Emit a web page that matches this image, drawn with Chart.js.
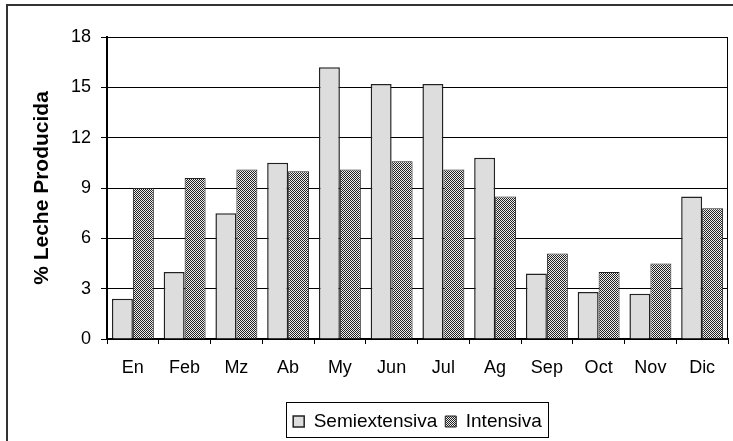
<!DOCTYPE html>
<html>
<head>
<meta charset="utf-8">
<script src="https://cdn.jsdelivr.net/npm/chart.js@4.4.1/dist/chart.umd.min.js"></script>
<style>
  html, body { margin: 0; padding: 0; background: #fff; }
</style>
</head>
<body>
<canvas id="chart1" width="733" height="441"></canvas>
<script>
var months = ['En', 'Feb', 'Mz', 'Ab', 'My', 'Jun', 'Jul', 'Ag', 'Sep', 'Oct', 'Nov', 'Dic'];
var semiextensiva = [2.4, 4.0, 7.5, 10.5, 16.2, 15.2, 15.2, 10.8, 3.9, 2.8, 2.7, 8.5];
var intensiva = [9.0, 9.6, 10.1, 10.0, 10.1, 10.6, 10.1, 8.5, 5.1, 4.0, 4.5, 7.8];
var yTicks = [0, 3, 6, 9, 12, 15, 18];

// checkered fill like the old excel pattern
function checker() {
  var c = document.createElement('canvas');
  c.width = 2; c.height = 2;
  var x = c.getContext('2d');
  x.fillStyle = '#eeeeee';
  x.fillRect(0, 0, 2, 2);
  x.fillStyle = '#222222';
  x.fillRect(0, 0, 1, 1);
  x.fillRect(1, 1, 1, 1);
  return x.createPattern(c, 'repeat');
}

var frames = {
  id: 'frames',
  afterDraw: function (chart) {
    var ctx = chart.ctx;
    var a = chart.chartArea;
    ctx.save();
    // plot area right edge
    ctx.strokeStyle = '#000';
    ctx.lineWidth = 1;
    ctx.beginPath();
    ctx.moveTo(a.right - 0.5, a.top);
    ctx.lineTo(a.right - 0.5, a.bottom);
    ctx.stroke();
    // legend box
    var hb = chart.legend.legendHitBoxes;
    if (hb && hb.length) {
      var l = hb[0].left - 7;
      var r = hb[hb.length - 1].left + hb[hb.length - 1].width + 6;
      ctx.strokeStyle = '#000';
      ctx.lineWidth = 1;
      ctx.strokeRect(Math.round(l) + 0.5, 402.5, Math.round(r - l), 35);
    }
    // outer border
    ctx.strokeStyle = '#333';
    ctx.lineWidth = 2;
    ctx.strokeRect(7, 5, 800, 500);
    ctx.restore();
  }
};

Chart.defaults.font.family = '"Liberation Sans", Arial, sans-serif';
Chart.defaults.color = '#000';

var graph = document.getElementById('chart1');

var myChart = new Chart(graph, {
  type: 'bar',
  data: {
    labels: months,
    datasets: [{
      label: 'Semiextensiva',
      data: semiextensiva,
      backgroundColor: '#dddddd',
      borderColor: '#222',
      borderWidth: 1.5
    }, {
      label: 'Intensiva',
      data: intensiva,
      backgroundColor: checker(),
      borderColor: '#222',
      borderWidth: 1
    }]
  },
  options: {
    responsive: false,
    animation: false,
    devicePixelRatio: 1,
    categoryPercentage: 0.81,
    barPercentage: 1.0,
    layout: { padding: { top: 37, right: 5, left: 0, bottom: 0 } },
    scales: {
      x: {
        afterFit: function (s) { s.height = 65; },
        grid: { display: true, drawOnChartArea: false, color: '#000', tickLength: 5, offset: true },
        border: { display: true, color: '#000', width: 2 },
        ticks: { font: { size: 18 }, padding: 13, maxRotation: 0 }
      },
      y: {
        min: 0,
        max: 18,
        afterFit: function (s) { s.width = 107; },
        afterBuildTicks: function (s) { s.ticks = yTicks.map(function (v) { return { value: v }; }); },
        grid: { color: '#000', lineWidth: 1, tickLength: 6 },
        border: { display: true, color: '#000', width: 2 },
        ticks: { font: { size: 18 }, padding: 10 },
        title: {
          display: true,
          text: '% Leche Producida',
          font: { size: 21, weight: 'bold' },
          padding: { top: 30, bottom: 0 }
        }
      }
    },
    plugins: {
      legend: {
        position: 'bottom',
        fullSize: false,
        labels: { boxWidth: 11, boxHeight: 11, padding: 8, font: { size: 19 } }
      },
      tooltip: { enabled: false }
    }
  },
  plugins: [frames]
});
</script>
</body>
</html>
